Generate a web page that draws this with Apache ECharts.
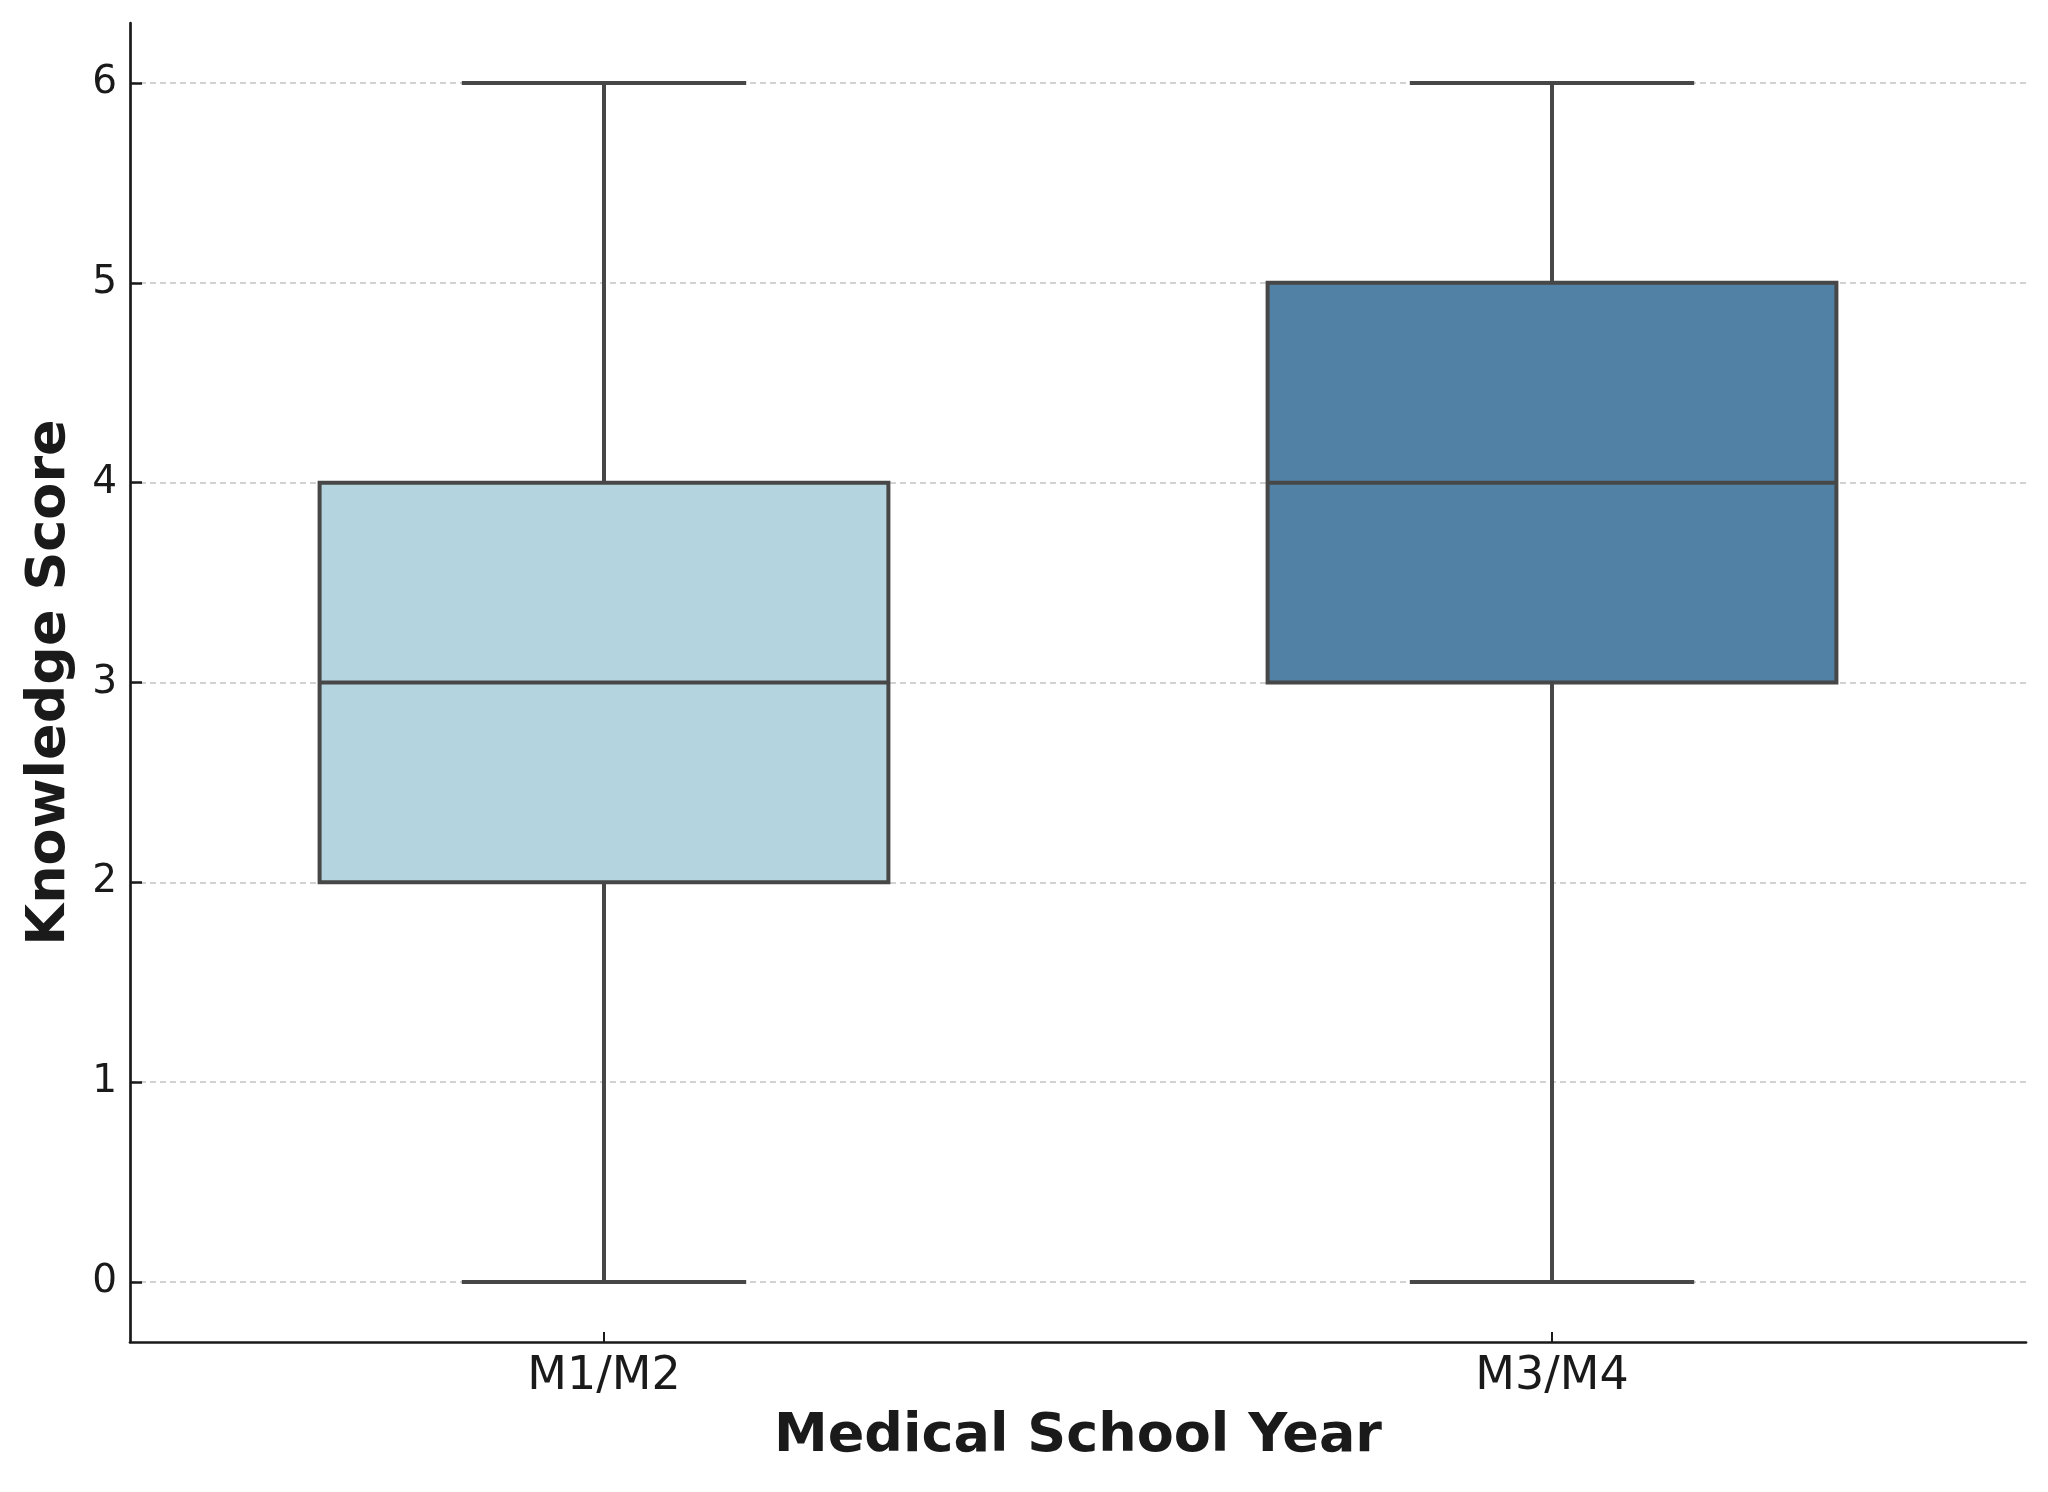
<!DOCTYPE html>
<html>
<head>
<meta charset="utf-8">
<script src="https://cdn.jsdelivr.net/npm/echarts@6/dist/echarts.min.js"></script>
<style>
  html, body { margin: 0; padding: 0; background: #ffffff; }
  #chart { width: 2048px; height: 1492px; }
</style>
</head>
<body>
<div id="chart"></div>
<script>
// ---- data ----
const categories = ['M1/M2', 'M3/M4'];
const mins    = [0, 0];
const q1s     = [2, 3];
const medians = [3, 4];
const q3s     = [4, 5];
const maxs    = [6, 6];
const yTicks  = [0, 1, 2, 3, 4, 5, 6];

// ---- styles ----
const boxFills = ['#b4d4df', '#5281a6'];
const strokeColor = '#474747';
const textColor = '#1a1a1a';
const fontFamily = 'DejaVu Sans';

const seriesData = categories.map((c, i) => [i, mins[i], q1s[i], medians[i], q3s[i], maxs[i]]);

const chart = echarts.init(document.getElementById('chart'), null, { renderer: 'canvas' });

function renderBox(params, api) {
  const idx = api.value(0);
  const pMin = api.coord([idx, api.value(1)]);
  const pQ1  = api.coord([idx, api.value(2)]);
  const pMed = api.coord([idx, api.value(3)]);
  const pQ3  = api.coord([idx, api.value(4)]);
  const pMax = api.coord([idx, api.value(5)]);
  const band = api.size([1, 0])[0];
  const boxW = band * 0.6;
  const capW = boxW * 0.5;
  const cx = pMed[0];
  const lw = 4;
  const ls = { stroke: strokeColor, lineWidth: lw, fill: null };
  return {
    type: 'group',
    children: [
      { type: 'line', shape: { x1: cx, y1: pMin[1], x2: cx, y2: pQ1[1] }, style: ls },
      { type: 'line', shape: { x1: cx, y1: pQ3[1], x2: cx, y2: pMax[1] }, style: ls },
      { type: 'line', shape: { x1: cx - capW / 2, y1: pMin[1], x2: cx + capW / 2, y2: pMin[1] }, style: ls },
      { type: 'line', shape: { x1: cx - capW / 2, y1: pMax[1], x2: cx + capW / 2, y2: pMax[1] }, style: ls },
      { type: 'rect', shape: { x: cx - boxW / 2, y: pQ3[1], width: boxW, height: pQ1[1] - pQ3[1] },
        style: { fill: boxFills[idx], stroke: strokeColor, lineWidth: lw } },
      { type: 'line', shape: { x1: cx - boxW / 2, y1: pMed[1], x2: cx + boxW / 2, y2: pMed[1] }, style: ls }
    ]
  };
}

const option = {
  backgroundColor: '#ffffff',
  animation: false,
  textStyle: { fontFamily: fontFamily },
  grid: { left: 130, right: 22, top: 23, bottom: 150, containLabel: false },
  xAxis: {
    type: 'category',
    data: categories,
    boundaryGap: true,
    axisLine: { show: true, onZero: false, lineStyle: { color: textColor, width: 2.7 } },
    axisTick: { show: true, inside: true, length: 10, alignWithLabel: true, lineStyle: { color: textColor, width: 2 } },
    axisLabel: { fontSize: 46, color: textColor, margin: 12, fontFamily: fontFamily },
    splitLine: { show: false },
    name: 'Medical School Year',
    nameLocation: 'middle',
    nameGap: 95,
    nameTextStyle: { fontSize: 54, fontWeight: 'bold', color: textColor, fontFamily: fontFamily, verticalAlign: 'middle' }
  },
  yAxis: {
    type: 'value',
    min: -0.3,
    max: 6.3,
    axisLine: { show: true, onZero: false, lineStyle: { color: textColor, width: 2.7 } },
    axisTick: { show: true, inside: true, length: 12, customValues: yTicks, lineStyle: { color: textColor, width: 2.5 } },
    axisLabel: { customValues: yTicks, fontSize: 39, color: textColor, margin: 13, fontFamily: fontFamily },
    splitLine: { show: true, lineStyle: { color: '#c4c4c4', type: [6, 4], width: 1.6 } },
    name: 'Knowledge Score',
    nameLocation: 'middle',
    nameGap: 80,
    nameTextStyle: { fontSize: 54, fontWeight: 'bold', color: textColor, fontFamily: fontFamily, verticalAlign: 'middle' }
  },
  series: [{
    type: 'custom',
    renderItem: renderBox,
    encode: { x: 0, y: [1, 2, 3, 4, 5] },
    data: seriesData,
    z: 5
  }]
};
chart.setOption(option);
</script>
</body>
</html>
